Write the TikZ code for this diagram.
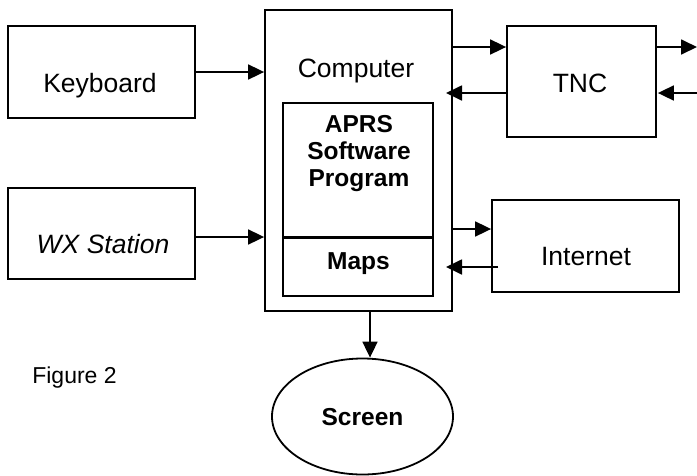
\documentclass[tikz,border=0pt]{standalone}
\usepackage{fontspec}
\setmainfont{Liberation Sans}
\usetikzlibrary{arrows.meta,shapes.geometric}
\begin{document}
\begin{tikzpicture}[x=1pt,y=-1pt,
  box/.style={draw,line width=1.8pt,inner sep=0pt},
  arr/.style={line width=1.8pt,-{Triangle[length=16pt,width=15pt]}},
  reg/.style={font=\fontsize{26.5}{30}\selectfont,anchor=base,inner sep=0pt},
  bld/.style={font=\fontsize{24.5}{27}\selectfont\bfseries,inner sep=0pt}]
\useasboundingbox (0,0) rectangle (697,475);
% left boxes
\node[box,minimum width=187pt,minimum height=92pt] (kb) at (101.5,72) {};
\node[reg] (kbtxt) at (100,92) {Keyboard};
\node[box,minimum width=187pt,minimum height=91pt] (wx) at (101.5,233.5) {};
\node[reg] (wxtxt) at (103,253) {\itshape WX Station};
% computer
\node[box,minimum width=187pt,minimum height=301pt] (comp) at (358.5,160.5) {};
\node[reg] (comptxt) at (356,77) {Computer};
\node[box,minimum width=150pt,minimum height=135pt,anchor=north] (aprs) at (358,102) {};
\node[bld,align=center,anchor=north] (aprstxt) at (359,115) {APRS\\Software\\Program};
\node[box,minimum width=150pt,minimum height=59pt] (maps) at (358,266.5) {};
\node[bld,anchor=base] (mapstxt) at (358.5,269) {Maps};
% TNC
\node[box,minimum width=149pt,minimum height=111pt] (tnc) at (581.5,81.5) {};
\node[reg] (tnctxt) at (580,92) {TNC};
% Internet
\node[box,minimum width=187pt,minimum height=92pt] (inet) at (585.5,246) {};
\node[reg] (inettxt) at (586,265) {Internet};
% Screen
\node[box,ellipse,minimum width=181pt,minimum height=116pt] (scr) at (362.5,416.5) {};
\node[bld,anchor=base] (scrtxt) at (362.5,425) {Screen};
% Figure label
\node[font=\fontsize{23}{27}\selectfont,anchor=base,inner sep=0pt] (fig) at (74.5,383) {Figure 2};
% coordinates
\coordinate (tncback) at (446,93);
\coordinate (inetback) at (446,267);
\coordinate (outr) at (697,47);
\coordinate (inr) at (697,93);
% connectors
\draw[arr] (kb.east) -- (kb.east -| comp.west);
\draw[arr] ([yshift=-3.5pt]wx.east) -- ([yshift=-3.5pt]wx.east -| comp.west);
\draw[arr] ([yshift=34.5pt]tnc.west -| comp.east) -- ([yshift=34.5pt]tnc.west);
\draw[arr] ([yshift=-11.5pt]tnc.west) -- (tncback);
\draw[arr] ([yshift=34.5pt]tnc.east) -- (outr);
\draw[arr] (inr) -- ([yshift=-11.5pt,xshift=1pt]tnc.east);
\draw[arr] ([yshift=17pt]inet.west -| comp.east) -- ([yshift=17pt]inet.west);
\draw[arr] ([yshift=-21pt,xshift=7pt]inet.west) -- (inetback);
\draw[arr] ([xshift=11.5pt]comp.south) -- ([xshift=7.5pt]scr.north);
\end{tikzpicture}
\end{document}
